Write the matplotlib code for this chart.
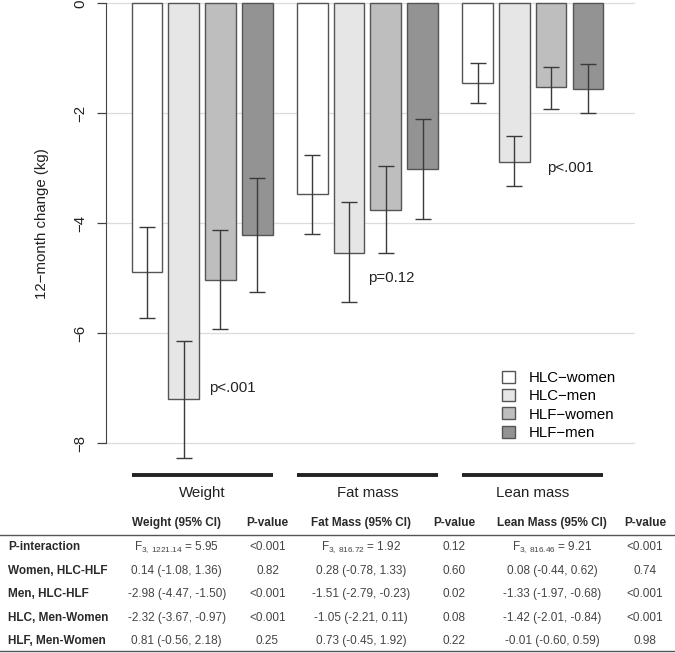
import numpy as np
import matplotlib.pyplot as plt
from matplotlib.patches import Patch

plt.rcParams['font.family'] = ['Liberation Sans', 'DejaVu Sans']
plt.rcParams['mathtext.fontset'] = 'custom'
plt.rcParams['mathtext.rm'] = 'Liberation Sans'
plt.rcParams['mathtext.default'] = 'regular'

# 12-month change (kg): Weight, Fat mass, Lean mass
groups = ['Weight', 'Fat mass', 'Lean mass']
series = ['HLC\u2212women', 'HLC\u2212men', 'HLF\u2212women', 'HLF\u2212men']
colors = ['#ffffff', '#e6e6e6', '#bebebe', '#939393']

means = [[-4.89, -3.47, -1.44],
         [-7.20, -4.53, -2.88],
         [-5.03, -3.75, -1.53],
         [-4.21, -3.02, -1.55]]
ci_hi = [[-4.06, -2.76, -1.09],
         [-6.13, -3.62, -2.42],
         [-4.13, -2.96, -1.15],
         [-3.18, -2.11, -1.10]]
ci_lo = [[-5.72, -4.19, -1.81],
         [-8.26, -5.43, -3.33],
         [-5.92, -4.53, -1.93],
         [-5.25, -3.92, -2.00]]
p_labels = ['p<.001', 'p=0.12', 'p<.001']

# table below the chart
col_headers = ['Weight (95% CI)', 'P-value', 'Fat Mass (95% CI)', 'P-value',
               'Lean Mass (95% CI)', 'P-value']
row_labels = ['P-interaction', 'Women, HLC-HLF', 'Men, HLC-HLF',
              'HLC, Men-Women', 'HLF, Men-Women']
weight_ci = [r'F$_{3,\,1221.14}$ = 5.95', '0.14 (-1.08, 1.36)', '-2.98 (-4.47, -1.50)',
             '-2.32 (-3.67, -0.97)', '0.81 (-0.56, 2.18)']
weight_p = ['<0.001', '0.82', '<0.001', '<0.001', '0.25']
fat_ci = [r'F$_{3,\,816.72}$ = 1.92', '0.28 (-0.78, 1.33)', '-1.51 (-2.79, -0.23)',
          '-1.05 (-2.21, 0.11)', '0.73 (-0.45, 1.92)']
fat_p = ['0.12', '0.60', '0.02', '0.08', '0.22']
lean_ci = [r'F$_{3,\,816.46}$ = 9.21', '0.08 (-0.44, 0.62)', '-1.33 (-1.97, -0.68)',
           '-1.42 (-2.01, -0.84)', '-0.01 (-0.60, 0.59)']
lean_p = ['<0.001', '0.74', '<0.001', '<0.001', '0.98']

W, H = 675, 653
fig = plt.figure(figsize=(W / 100, H / 100), dpi=100)
ax = fig.add_axes([106 / W, (H - 505) / H, 529 / W, 505 / H])

fs = 10.8
bar_step, group_step = 1.2, 5.4
for i in range(4):
    lefts = np.arange(3) * group_step + i * bar_step
    m = np.array(means[i])
    ax.bar(lefts, m, width=1, align='edge', color=colors[i], edgecolor='#555555',
           linewidth=1.0, zorder=2)
    ax.errorbar(lefts + 0.5, m, yerr=[m - np.array(ci_lo[i]), np.array(ci_hi[i]) - m],
                fmt='none', ecolor='#3a3a3a', elinewidth=1.0, capsize=6, capthick=1.0,
                zorder=3)

for y in [0, -2, -4, -6, -8]:
    ax.axhline(y, color='#dcdcdc', lw=0.9, zorder=1)

# group underline and labels
for g, name in enumerate(groups):
    x0 = g * group_step
    x1 = x0 + 3 * bar_step + 1
    ax.plot([x0, x1], [-8.57, -8.57], color='#222222', lw=2.8, solid_capstyle='butt')
    ax.text((x0 + x1) / 2, -8.91, name, ha='center', va='center', fontsize=fs,
            color='#222222')

# p-values
p_pos = [(2.53, -6.99), (7.72, -4.99), (13.58, -3.0)]
for (px, py), lab in zip(p_pos, p_labels):
    ax.text(px, py, lab, ha='left', va='center', fontsize=fs, color='#222222')

ax.set_xlim(-0.84, 16.44)
ax.set_ylim(-9.12, 0.06)
for s in ['top', 'right', 'bottom']:
    ax.spines[s].set_visible(False)
ax.spines['left'].set_bounds(-8, 0)
ax.spines['left'].set_color('#444444')
ax.set_xticks([])
ax.set_yticks([0, -2, -4, -6, -8])
ax.set_yticklabels(['0', '\u22122', '\u22124', '\u22126', '\u22128'], rotation=90,
                   va='center', fontsize=fs, color='#222222')
ax.tick_params(axis='y', length=6.5, width=0.9, color='#444444', pad=7)
ax.text(-0.1216, 0.558, '12\u2212month change (kg)', transform=ax.transAxes,
        rotation=90, ha='center', va='center', fontsize=fs, color='#222222')

handles = [Patch(facecolor=c, edgecolor='#555555', lw=1.0) for c in colors]
fig.legend(handles, series, loc='upper left', bbox_to_anchor=(502 / W, 1 - 371 / H),
           frameon=False, fontsize=fs, handlelength=0.85, handleheight=0.85,
           handletextpad=0.9, labelspacing=0.27, borderpad=0, borderaxespad=0)

# table
tfs = 8.5
col_x = [176.7, 267.5, 361, 454, 552, 645]
head_y = 523.3
row_y = [547.3, 571, 594.3, 617.7, 641]
for x, hdr in zip(col_x, col_headers):
    fig.text(x / W, 1 - head_y / H, hdr, ha='center', va='center', fontsize=tfs,
             fontweight='bold', color='#2a2a2a')
fig.add_artist(plt.Line2D([0, 1], [1 - 535 / H, 1 - 535 / H], color='#555555', lw=1.0))
fig.add_artist(plt.Line2D([0, 1], [1 - 650.5 / H, 1 - 650.5 / H], color='#555555', lw=1.0))
cols = [weight_ci, weight_p, fat_ci, fat_p, lean_ci, lean_p]
for r, lab in enumerate(row_labels):
    y = 1 - row_y[r] / H
    fig.text(8 / W, y, lab, ha='left', va='center', fontsize=tfs, fontweight='bold',
             color='#2a2a2a')
    for x, col in zip(col_x, cols):
        fig.text(x / W, y, col[r], ha='center', va='center', fontsize=tfs, color='#444444')

fig.savefig('out.png', dpi=100)
